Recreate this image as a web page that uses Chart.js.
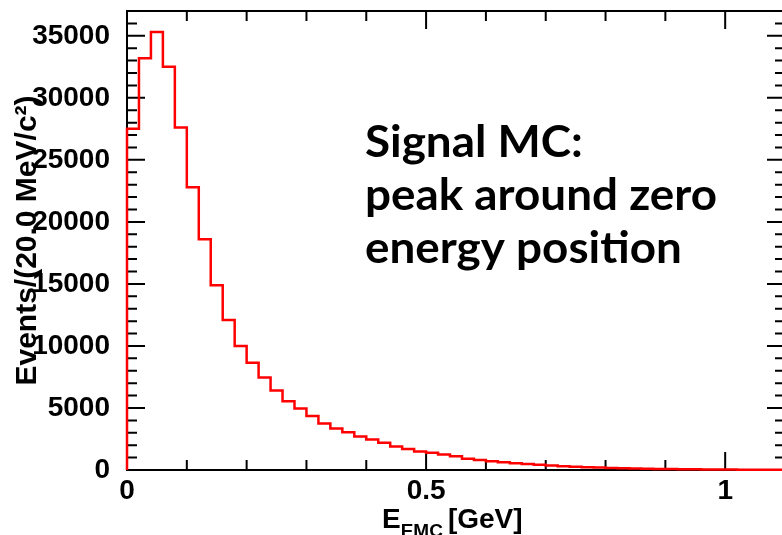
<!DOCTYPE html>
<html>
<head>
<meta charset="utf-8">
<script src="https://cdn.jsdelivr.net/npm/chart.js@4.4.1/dist/chart.umd.min.js"></script>
<style>
  html, body { margin: 0; padding: 0; overflow: hidden; background: #fff; }
  canvas { display: block; }
</style>
</head>
<body>
<canvas id="hist" width="790" height="535"></canvas>
<script>
// E_EMC histogram, 20 MeV bins from 0 to 1.1 GeV
const binWidth = 0.02;
const counts = [27500, 33200, 35300, 32500, 27600, 22800, 18600, 14900, 12100, 10000,
  8650, 7450, 6400, 5550, 4950, 4350, 3750, 3350, 3050, 2700,
  2450, 2200, 1900, 1700, 1500, 1400, 1250, 1100, 900, 800,
  700, 620, 550, 480, 420, 360, 310, 270, 230, 200,
  170, 145, 125, 105, 90, 78, 66, 56, 48, 40,
  34, 29, 25, 21, 18];
const xRange = [0, 1.1];
const yRange = [0, 37000];
const xLabels = [0, 0.5, 1];
const yLabels = [0, 5000, 10000, 15000, 20000, 25000, 30000, 35000];
const xMajor = 0.5, xMinor = 0.1;
const yMajor = 5000, yMinor = 1000;
const yTitle = 'Events/(20.0 MeV/c\u00B2)';
const note = ['Signal MC:', 'peak around zero', 'energy position'];

// step outline points: start at (0,0), one point per bin low edge, close at last edge
const points = [{x: 0, y: 0}];
counts.forEach((c, i) => points.push({x: i * binWidth, y: c}));
points.push({x: counts.length * binWidth, y: counts[counts.length - 1]});

const helv = '"Liberation Sans", Arial, sans-serif';
const tickFont = {family: helv, size: 28, weight: 'bold'};

const framePlugin = {
  id: 'frame',
  beforeDatasetsDraw(chart) {
    const {ctx, chartArea: a, scales: {x, y}} = chart;
    ctx.save();
    ctx.strokeStyle = '#000';
    ctx.lineWidth = 2;
    ctx.strokeRect(a.left, a.top, a.right - a.left, a.bottom - a.top);
    ctx.beginPath();
    for (let v = xRange[0]; v <= xRange[1] + 1e-9; v += xMinor) {
      const px = x.getPixelForValue(v);
      const major = Math.abs(v / xMajor - Math.round(v / xMajor)) < 1e-6;
      const len = major ? 18 : 10;
      ctx.moveTo(px, a.bottom); ctx.lineTo(px, a.bottom - len);
      ctx.moveTo(px, a.top); ctx.lineTo(px, a.top + len);
    }
    for (let v = yRange[0]; v <= yRange[1]; v += yMinor) {
      const py = y.getPixelForValue(v);
      const len = v % yMajor === 0 ? 18 : 10;
      ctx.moveTo(a.left, py); ctx.lineTo(a.left + len, py);
      ctx.moveTo(a.right, py); ctx.lineTo(a.right - len, py);
    }
    ctx.stroke();
    ctx.restore();
  },
  afterDraw(chart) {
    const {ctx} = chart;
    ctx.save();
    ctx.fillStyle = '#000';
    // x axis title with subscript
    let cx = 382;
    const base = 528;
    ctx.font = 'bold 28px ' + helv;
    ctx.fillText('E', cx, base);
    cx += ctx.measureText('E').width;
    ctx.font = 'bold 19px ' + helv;
    ctx.fillText('EMC', cx, base + 9);
    cx += ctx.measureText('EMC').width + 5;
    ctx.font = 'bold 28px ' + helv;
    ctx.fillText('[GeV]', cx, base);

    // annotation, squeezed to the width of the original text
    ctx.font = 'bold 44px Lato, "Open Sans", sans-serif';
    const w = ctx.measureText(note[1]).width;
    const sx = 352 / w;
    note.forEach((line, i) => {
      ctx.save();
      ctx.translate(365, 157 + i * 53);
      ctx.scale(sx, 1);
      ctx.fillText(line, 0, 0);
      ctx.restore();
    });
    ctx.restore();
  }
};

new Chart(document.getElementById('hist'), {
  type: 'line',
  data: {
    datasets: [{
      data: points,
      stepped: 'before',
      borderColor: '#ff0000',
      borderWidth: 2.5,
      pointRadius: 0,
      fill: false,
      clip: false
    }]
  },
  options: {
    responsive: false,
    animation: false,
    layout: {padding: {top: 11, right: 5, left: 0, bottom: 0}},
    plugins: {legend: {display: false}, tooltip: {enabled: false}},
    scales: {
      x: {
        type: 'linear',
        min: xRange[0],
        max: xRange[1],
        grid: {display: false},
        border: {display: false},
        afterBuildTicks: s => { s.ticks = xLabels.map(v => ({value: v})); },
        ticks: {
          autoSkip: false,
          color: '#000',
          font: tickFont,
          padding: -4,
          maxRotation: 0,
          callback: v => String(v)
        },
        afterFit: s => { s.height = 65; s.paddingLeft = 0; s.paddingRight = 0; }
      },
      y: {
        min: yRange[0],
        max: yRange[1],
        grid: {display: false},
        border: {display: false},
        afterBuildTicks: s => { s.ticks = yLabels.map(v => ({value: v})); },
        ticks: {
          autoSkip: false,
          color: '#000',
          font: tickFont,
          padding: 9,
          callback: v => String(v)
        },
        title: {
          display: true,
          text: yTitle,
          color: '#000',
          font: {family: helv, size: 30, weight: 'bold'},
          padding: {top: 10, bottom: 0}
        },
        afterFit: s => { s.width = 127; s.paddingTop = 0; s.paddingBottom = 0; }
      }
    }
  },
  plugins: [framePlugin]
});
</script>
</body>
</html>
